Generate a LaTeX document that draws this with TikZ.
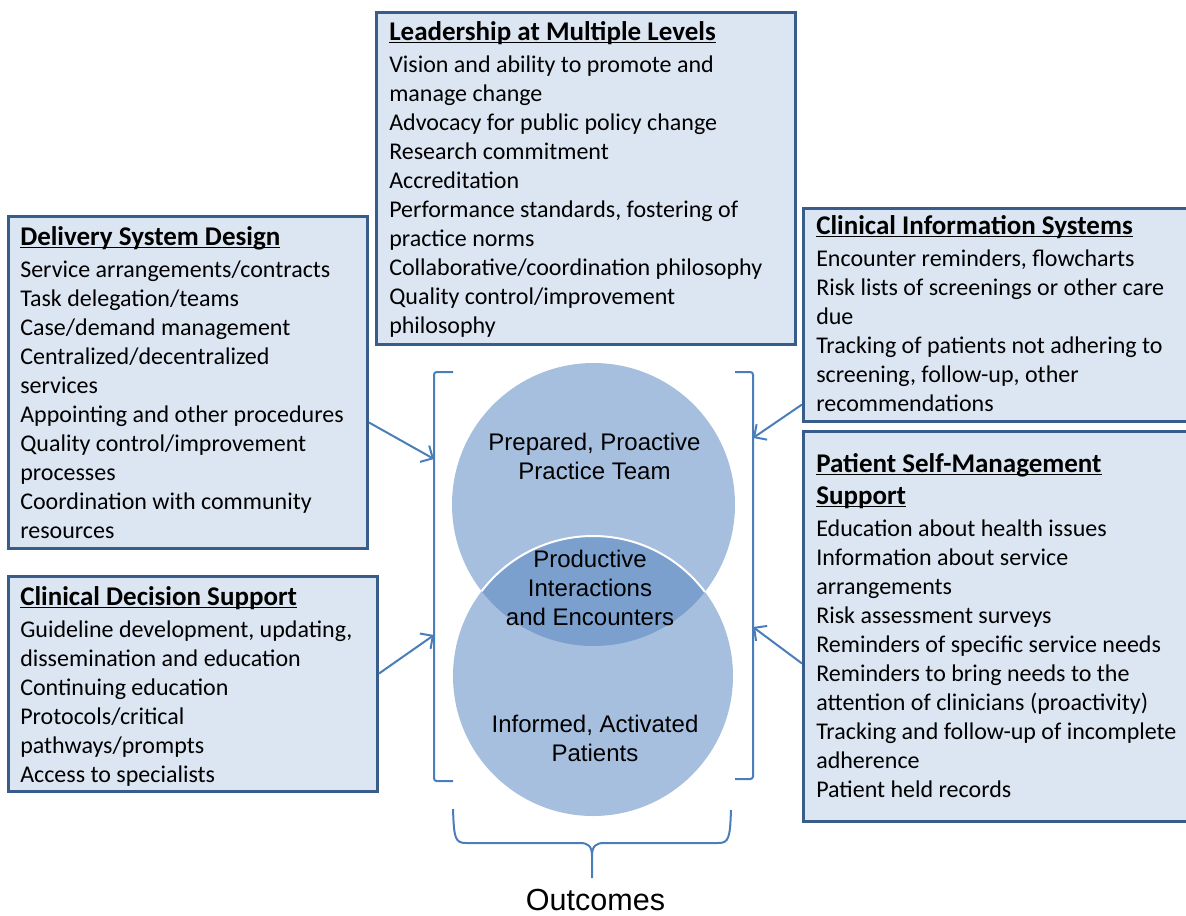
\documentclass[tikz,border=0pt]{standalone}
\usepackage{fontspec}
\setmainfont{Carlito}
\newfontfamily\arialfont{Liberation Sans}
\usetikzlibrary{arrows.meta,calc}
\definecolor{boxfill}{RGB}{220,230,242}
\definecolor{boxline}{RGB}{56,93,138}
\definecolor{circfill}{RGB}{167,191,222}
\definecolor{lensfill}{RGB}{124,160,205}
\definecolor{accent}{RGB}{74,126,187}
\newcommand{\hd}[1]{\begin{tabular}[t]{@{}l@{}}#1\end{tabular}}
\newcommand{\myul}[1]{\setbox0\hbox{#1}\leavevmode\rlap{\rule[-2.6pt]{\wd0}{1.3pt}}\box0}
\begin{document}
\begin{tikzpicture}[x=0.75pt,y=-0.75pt,
  box/.style={draw=boxline, fill=boxfill, line width=2.25pt, anchor=north west, inner sep=0pt},
  head/.style={anchor=base west, inner sep=0pt, font=\fontsize{20.25}{24}\selectfont\bfseries},
  body/.style={anchor=base west, inner sep=0pt, font=\fontsize{18}{21.75}\selectfont},
  ctext/.style={anchor=base, inner sep=0pt, font=\arialfont\fontsize{18}{21.75}\selectfont},
  bigtext/.style={anchor=base, inner sep=0pt, font=\arialfont\fontsize{22.9}{27}\selectfont},
  bracket/.style={draw=accent, line width=1.5pt},
  conn/.style={draw=accent, line width=1.5pt, -{Straight Barb[length=7pt,width=14pt]}},
  disc/.style={circle, inner sep=0pt, fill=circfill},
]
\useasboundingbox (0,0) rectangle (1186,915);
\clip (0,0) rectangle (1186,915);

% boxes
\node[box, minimum width=314.25pt, minimum height=249pt] (lead) at (375,11) {};
\node[box, minimum width=269.25pt, minimum height=249pt] (deliv) at (7,215) {};
\node[box, minimum width=292.5pt, minimum height=159.75pt] (cinfo) at (802,207) {};
\node[box, minimum width=292.5pt, minimum height=292.5pt] (psm) at (802,430) {};
\node[box, minimum width=276.75pt, minimum height=161.25pt] (decis) at (7,575) {};

% box texts
\node[head] (leadh) at ($(lead.north west)+(14,29)$) {\hd{\myul{Leadership at Multiple Levels}}};
\node[body] (leadb) at ($(lead.north west)+(14,61)$) {\hd{Vision and ability to promote and\\manage change\\Advocacy for public policy change\\Research commitment\\Accreditation\\Performance standards, fostering of\\practice norms\\Collaborative/coordination philosophy\\Quality control/improvement\\philosophy}};

\node[head] (delivh) at ($(deliv.north west)+(13,30)$) {\hd{\myul{Delivery System Design}}};
\node[body] (delivb) at ($(deliv.north west)+(13,62)$) {\hd{Service arrangements/contracts\\Task delegation/teams\\Case/demand management\\Centralized/decentralized\\services\\Appointing and other procedures\\Quality control/improvement\\processes\\Coordination with community\\resources}};

\node[head] (cinfoh) at ($(cinfo.north west)+(14,27)$) {\hd{\myul{Clinical Information Systems}}};
\node[body] (cinfob) at ($(cinfo.north west)+(14,59)$) {\hd{Encounter reminders, flowcharts\\Risk lists of screenings or other care\\due\\Tracking of patients not adhering to\\screening, follow-up, other\\recommendations}};

\node[head] (psmh) at ($(psm.north west)+(14,42)$) {\hd{\myul{Patient Self-Management}\\\myul{Support}}};
\node[body] (psmb) at ($(psm.north west)+(14,106)$) {\hd{Education about health issues\\Information about service\\arrangements\\Risk assessment surveys\\Reminders of specific service needs\\Reminders to bring needs to the\\attention of clinicians (proactivity)\\Tracking and follow-up of incomplete\\adherence\\Patient held records}};

\node[head] (decish) at ($(decis.north west)+(13,30)$) {\hd{\myul{Clinical Decision Support}}};
\node[body] (decisb) at ($(decis.north west)+(13,62)$) {\hd{Guideline development, updating,\\dissemination and education\\Continuing education\\Protocols/critical\\pathways/prompts\\Access to specialists}};

% circles
\node[disc, minimum size=212.25pt] (team) at (593.5,504.5) {};
\node[disc, minimum size=210pt] (pats) at (593,676) {};
\begin{scope}
  \clip (593.5,504.5) circle[radius=141.5];
  \fill[lensfill] (593,676) circle[radius=140];
  \draw[white, line width=1.5pt] (593,676) circle[radius=140];
\end{scope}

\node[ctext] (teamt) at (594.5,450) {\begin{tabular}[t]{@{}c@{}}Prepared, Proactive\\Practice Team\end{tabular}};
\node[ctext] (lenst) at (590,567) {\begin{tabular}[t]{@{}c@{}}Productive\\Interactions\\and Encounters\end{tabular}};
\node[ctext] (patst) at (595,732) {\begin{tabular}[t]{@{}c@{}}Informed, Activated\\Patients\end{tabular}};

% brackets
\draw[bracket, rounded corners=2pt] (453,372) -- (434,372) -- (434,781) -- (453,781);
\draw[bracket, rounded corners=2pt] (735,372) -- (753,372) -- (753,779) -- (735,779);
\coordinate (lb1) at (434,459);
\coordinate (lb2) at (434,635);
\coordinate (rb1) at (753,438);
\coordinate (rb2) at (753,627);

% connectors
\draw[conn] ($(deliv.east)+(0,40)$) -- (lb1);
\draw[conn] ($(decis.east)+(0,-10.5)$) -- (lb2);
\draw[conn] ($(cinfo.west)+(0,89.5)$) -- (rb1);
\draw[conn] ($(psm.west)+(0,37)$) -- (rb2);

% outcomes brace
\draw[bracket] (453,809) .. controls (454,838) and (455,843) .. (466,843) -- (580,843)
  .. controls (588,843) and (592,846) .. (592,856) -- (592,878);
\draw[bracket] (731,810) .. controls (730,838) and (729,843) .. (718,843) -- (604,843)
  .. controls (596,843) and (592,846) .. (592,856);
\node[bigtext] (outc) at (595.5,910) {Outcomes};
\end{tikzpicture}
\end{document}
